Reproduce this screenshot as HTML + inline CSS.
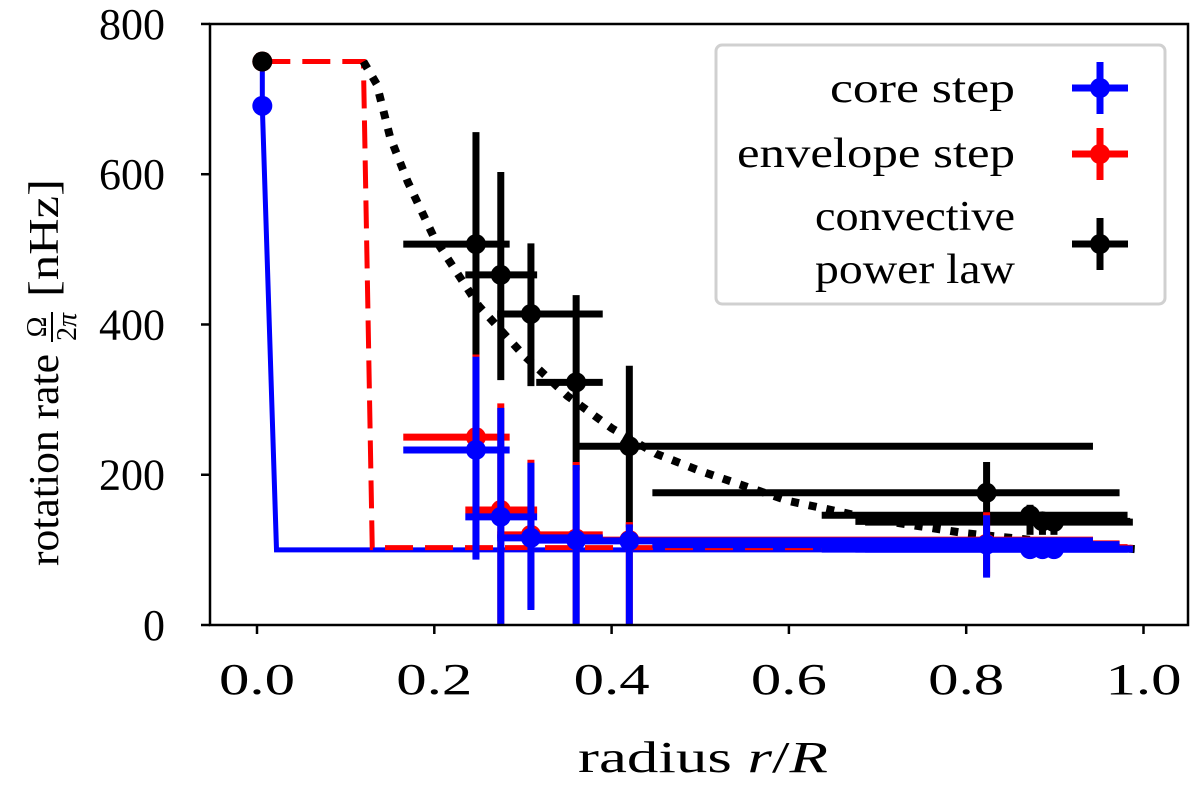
<!DOCTYPE html>
<html><head><meta charset="utf-8"><style>
body{margin:0;background:#fff}
svg text{font-family:"Liberation Serif",serif;fill:#000}
</style></head><body>
<svg id="chart" width="1200" height="787" viewBox="0 0 1200 787" xmlns="http://www.w3.org/2000/svg">
<g id="plot"></g>
<g id="axes"></g>
<text x="703" y="772" text-anchor="middle" font-size="44" textLength="250" lengthAdjust="spacingAndGlyphs">radius <tspan font-style="italic">r</tspan>/<tspan font-style="italic">R</tspan></text>
<g transform="translate(50,0) rotate(-90)">
<text x="-460" y="8" text-anchor="middle" font-size="42" textLength="212" lengthAdjust="spacingAndGlyphs">rotation rate</text>
<text x="-327" y="-4" text-anchor="middle" font-size="28">Ω</text>
<line x1="-342" x2="-312" y1="2" y2="2" stroke="#000" stroke-width="2"/>
<text x="-327" y="26" text-anchor="middle" font-size="28">2<tspan font-style="italic">π</tspan></text>
<text x="-238" y="8" text-anchor="middle" font-size="42" textLength="118" lengthAdjust="spacingAndGlyphs">[nHz]</text>
</g>
<g>
<rect x="716" y="45" width="449" height="259" rx="6" fill="#fff" stroke="#ccc" stroke-width="3" opacity="0.9"/>
<g>
<text x="1015" y="102" text-anchor="end" font-size="42" textLength="185" lengthAdjust="spacingAndGlyphs">core step</text>
<line x1="1072" x2="1128" y1="88" y2="88" stroke="#0000ff" stroke-width="7"/><line x1="1100" x2="1100" y1="62" y2="114" stroke="#0000ff" stroke-width="7"/><circle cx="1100" cy="88" r="10" fill="#0000ff"/>
</g>
<g>
<text x="1015" y="167" text-anchor="end" font-size="42" textLength="278" lengthAdjust="spacingAndGlyphs">envelope step</text>
<line x1="1072" x2="1128" y1="154" y2="154" stroke="#ff0000" stroke-width="7"/><line x1="1100" x2="1100" y1="128" y2="180" stroke="#ff0000" stroke-width="7"/><circle cx="1100" cy="154" r="10" fill="#ff0000"/>
</g>
<g>
<text x="1015" y="230" text-anchor="end" font-size="42" textLength="200" lengthAdjust="spacingAndGlyphs">convective</text>
<text x="1015" y="283" text-anchor="end" font-size="42" textLength="200" lengthAdjust="spacingAndGlyphs">power law</text>
<line x1="1072" x2="1128" y1="244" y2="244" stroke="#000" stroke-width="7"/><line x1="1100" x2="1100" y1="218" y2="270" stroke="#000" stroke-width="7"/><circle cx="1100" cy="244" r="10" fill="#000"/>
</g>
</g>
</svg>
<script>
const xTicks=[0.0,0.2,0.4,0.6,0.8,1.0];
const yTicks=[0,200,400,600,800];
const coreLineX=[0.006,0.006,0.022,0.99];
const coreLineY=[750,690,100,100];
const envLineX=[0.006,0.12,0.13,0.99];
const envLineY=[750,750,103,103];
const powX=[0.12,0.135,0.15,0.17,0.2,0.25,0.3,0.35,0.4,0.45,0.5,0.6,0.7,0.8,0.9,0.99];
const powY=[750,720,650,590,515,425,360,305,262,228,205,165,140,122,110,101];
const cvX=[0.006,0.247,0.275,0.309,0.360,0.420,0.823,0.872,0.886,0.899];
const cvY=[750,507,466,414,323,238,176,146,138,137];
const cvXlo=[null,0.165,0.235,0.271,0.315,0.362,0.446,0.637,0.675,0.686];
const cvXhi=[null,0.285,0.316,0.390,0.390,0.943,0.973,0.982,0.985,0.988];
const cvYlo=[null,356,326,318,206,130,133,120,120,120];
const cvYhi=[null,656,603,508,439,345,217,160,150,150];
const evX=[0.006,0.247,0.275,0.309,0.360,0.420,0.823,0.872,0.886,0.899];
const evY=[750,250,153,120,115,113,108,103,102,102];
const evXlo=[null,0.165,0.235,0.271,0.315,0.362,0.446,0.637,0.675,0.686];
const evXhi=[null,0.285,0.316,0.390,0.390,0.943,0.973,0.982,0.985,0.988];
const evYlo=[null,90,0,22,0,0,65,95,95,95];
const evYhi=[null,360,295,220,217,137,150,110,110,110];
const coX=[0.006,0.247,0.275,0.309,0.360,0.420,0.823,0.872,0.886,0.899];
const coY=[691,233,144,116,113,112,107,101,101,101];
const coXlo=[null,0.165,0.235,0.271,0.315,0.362,0.446,0.637,0.675,0.686];
const coXhi=[null,0.285,0.316,0.390,0.390,0.943,0.973,0.982,0.985,0.988];
const coYlo=[null,87,0,20,0,0,63,95,95,95];
const coYhi=[null,357,289,216,213,134,146,108,108,108];

const X0=210,X1=1188,Y0=24,Y1=625;
const sx=v=>257+v*886.5;
const sy=v=>625-v*0.7513;
const NS="http://www.w3.org/2000/svg";
const plot=document.getElementById('plot'),axes=document.getElementById('axes');
function mk(tag,at,parent){const e=document.createElementNS(NS,tag);for(const k in at)e.setAttribute(k,at[k]);parent.appendChild(e);return e;}
function poly(xs,ys,color,dash,w,name){
  const e=mk('polyline',{points:xs.map((x,i)=>sx(x)+','+sy(ys[i])).join(' '),fill:'none',stroke:color,'stroke-width':w,'stroke-dasharray':dash||'none'},plot);
  
  
}
poly(coreLineX,coreLineY,'#0000ff',null,5,'core-step-line');
poly(envLineX,envLineY,'#ff0000','28,12',5,'envelope-step-line');
poly(powX,powY,'#000','8,10',8,'power-law-line');
function series(X,Y,xl,xh,yl,yh,color,name,start){
  for(let i=start;i<X.length;i++){
    const g=mk('g',{},plot);
    
    
    if(xl[i]!==null){
      mk('line',{x1:sx(xl[i]),x2:sx(xh[i]),y1:sy(Y[i]),y2:sy(Y[i]),stroke:color,'stroke-width':7},g);
      mk('line',{x1:sx(X[i]),x2:sx(X[i]),y1:sy(yl[i]),y2:sy(yh[i]),stroke:color,'stroke-width':7},g);
    }
    mk('circle',{cx:sx(X[i]),cy:sy(Y[i]),r:10,fill:color},g);
  }
}
series(cvX,cvY,cvXlo,cvXhi,cvYlo,cvYhi,'#000','convective',1);
series(evX,evY,evXlo,evXhi,evYlo,evYhi,'#ff0000','envelope',0);
series(coX,coY,coXlo,coXhi,coYlo,coYhi,'#0000ff','core',0);
series(cvX.slice(0,1),cvY.slice(0,1),cvXlo.slice(0,1),cvXhi,cvYlo,cvYhi,'#000','convective',0);
const fr=mk('rect',{x:X0,y:Y0,width:X1-X0,height:Y1-Y0,fill:'none',stroke:'#000','stroke-width':2.5},axes);


xTicks.forEach(t=>{
  mk('line',{x1:sx(t),x2:sx(t),y1:Y1,y2:Y1+9,stroke:'#000','stroke-width':2.5},axes);
  const tx=mk('text',{x:sx(t),y:Y1+69,'text-anchor':'middle','font-size':44,textLength:76,lengthAdjust:'spacingAndGlyphs'},axes);
  tx.textContent=t.toFixed(1);
  
  
});
yTicks.forEach(t=>{
  mk('line',{x1:X0-9,x2:X0,y1:sy(t),y2:sy(t),stroke:'#000','stroke-width':2.5},axes);
  const s=String(t);
  const tx=mk('text',{x:X0-45,y:sy(t)+15,'text-anchor':'end','font-size':44,textLength:s.length*22,lengthAdjust:'spacingAndGlyphs'},axes);
  tx.textContent=s;
  
  
});
</script>
</body></html>
